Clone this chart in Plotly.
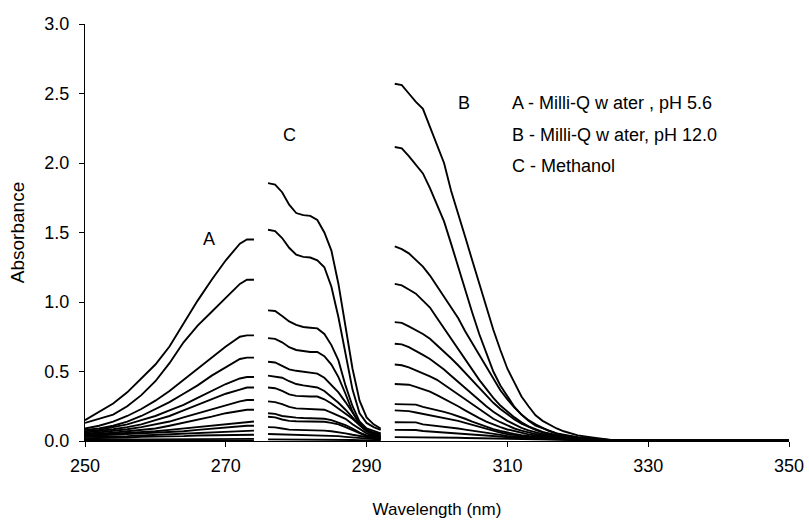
import plotly.graph_objects as go

# ---------------- data ----------------
A_x = [250, 252, 254, 256, 258, 260, 262, 264, 266, 268, 270, 272, 273, 274]
A_curves = [
    [0.15, 0.21, 0.27, 0.35, 0.45, 0.55, 0.68, 0.85, 1.01, 1.16, 1.30, 1.42, 1.45, 1.45],
    [0.13, 0.16, 0.19, 0.25, 0.33, 0.43, 0.56, 0.71, 0.83, 0.93, 1.03, 1.13, 1.16, 1.16],
    [0.09, 0.11, 0.14, 0.18, 0.23, 0.29, 0.36, 0.44, 0.52, 0.60, 0.68, 0.75, 0.76, 0.76],
    [0.08, 0.09, 0.11, 0.14, 0.18, 0.23, 0.28, 0.34, 0.40, 0.47, 0.53, 0.59, 0.60, 0.60],
    [0.07, 0.08, 0.10, 0.12, 0.15, 0.18, 0.22, 0.26, 0.31, 0.36, 0.41, 0.45, 0.46, 0.46],
    [0.06, 0.07, 0.085, 0.10, 0.12, 0.15, 0.18, 0.22, 0.26, 0.30, 0.34, 0.37, 0.385, 0.385],
    [0.05, 0.06, 0.07, 0.085, 0.10, 0.12, 0.14, 0.17, 0.20, 0.23, 0.26, 0.285, 0.295, 0.295],
    [0.045, 0.05, 0.06, 0.07, 0.08, 0.09, 0.11, 0.13, 0.15, 0.175, 0.20, 0.22, 0.225, 0.225],
    [0.04, 0.045, 0.05, 0.055, 0.06, 0.07, 0.08, 0.09, 0.10, 0.11, 0.125, 0.135, 0.14, 0.14],
    [0.035, 0.04, 0.04, 0.045, 0.05, 0.055, 0.06, 0.07, 0.08, 0.09, 0.10, 0.11, 0.11, 0.11],
    [0.03, 0.03, 0.035, 0.035, 0.04, 0.045, 0.05, 0.055, 0.06, 0.065, 0.07, 0.075, 0.075, 0.075],
    [0.02, 0.02, 0.025, 0.025, 0.03, 0.03, 0.035, 0.035, 0.04, 0.04, 0.045, 0.045, 0.045, 0.045],
    [0.01, 0.01, 0.01, 0.01, 0.012, 0.012, 0.013, 0.013, 0.014, 0.015, 0.015, 0.015, 0.015, 0.015],
    [0.003, 0.003, 0.003, 0.003, 0.003, 0.003, 0.003, 0.003, 0.003, 0.003, 0.003, 0.003, 0.003, 0.003],
]

C_x = [276, 277, 278, 279, 280, 281, 282, 283, 284, 285, 286, 287, 288, 289, 290, 291, 292]
C_curves = [
    [1.855, 1.845, 1.79, 1.70, 1.64, 1.625, 1.62, 1.59, 1.50, 1.37, 1.13, 0.83, 0.52, 0.29, 0.17, 0.12, 0.09],
    [1.52, 1.51, 1.46, 1.39, 1.34, 1.325, 1.32, 1.30, 1.25, 1.11, 0.89, 0.62, 0.37, 0.20, 0.13, 0.10, 0.08],
    [0.94, 0.935, 0.90, 0.86, 0.835, 0.82, 0.815, 0.81, 0.77, 0.69, 0.58, 0.40, 0.25, 0.14, 0.09, 0.07, 0.055],
    [0.74, 0.735, 0.71, 0.675, 0.655, 0.645, 0.64, 0.64, 0.61, 0.55, 0.46, 0.34, 0.21, 0.12, 0.08, 0.06, 0.05],
    [0.57, 0.565, 0.54, 0.515, 0.505, 0.50, 0.495, 0.485, 0.455, 0.40, 0.35, 0.28, 0.20, 0.13, 0.08, 0.055, 0.04],
    [0.47, 0.465, 0.455, 0.43, 0.41, 0.40, 0.39, 0.385, 0.36, 0.32, 0.275, 0.225, 0.17, 0.115, 0.07, 0.05, 0.035],
    [0.385, 0.38, 0.36, 0.335, 0.325, 0.32, 0.32, 0.32, 0.30, 0.27, 0.235, 0.20, 0.16, 0.115, 0.07, 0.045, 0.03],
    [0.285, 0.28, 0.265, 0.245, 0.235, 0.232, 0.23, 0.23, 0.225, 0.205, 0.185, 0.16, 0.12, 0.085, 0.055, 0.035, 0.025],
    [0.20, 0.195, 0.18, 0.172, 0.168, 0.165, 0.165, 0.163, 0.16, 0.15, 0.135, 0.115, 0.09, 0.06, 0.04, 0.03, 0.02],
    [0.175, 0.17, 0.155, 0.145, 0.142, 0.14, 0.14, 0.14, 0.138, 0.13, 0.12, 0.10, 0.08, 0.055, 0.035, 0.025, 0.018],
    [0.10, 0.098, 0.09, 0.082, 0.08, 0.08, 0.08, 0.078, 0.075, 0.07, 0.065, 0.055, 0.045, 0.035, 0.025, 0.02, 0.015],
    [0.05, 0.049, 0.046, 0.044, 0.043, 0.043, 0.043, 0.042, 0.04, 0.038, 0.035, 0.03, 0.025, 0.02, 0.015, 0.012, 0.01],
    [0.012, 0.012, 0.012, 0.011, 0.011, 0.011, 0.011, 0.011, 0.010, 0.010, 0.009, 0.008, 0.007, 0.006, 0.005, 0.005, 0.004],
]

B_x = [294, 295, 296, 297, 298, 299, 300, 301, 302, 303, 304, 305, 306, 307, 308, 309,
       310, 311, 312, 313, 314, 315, 316, 317, 318, 319, 320, 322, 324, 325, 330, 340, 350]
B_curves = [
    [2.57, 2.56, 2.50, 2.44, 2.39, 2.26, 2.14, 2.00, 1.80, 1.64, 1.47, 1.30, 1.13, 0.96, 0.80, 0.655,
     0.52, 0.42, 0.32, 0.25, 0.185, 0.145, 0.115, 0.09, 0.07, 0.055, 0.04, 0.025, 0.012, 0.005, 0.003, 0.003, 0.003],
    [2.115, 2.105, 2.05, 1.99, 1.925, 1.82, 1.70, 1.58, 1.42, 1.25, 1.08, 0.925, 0.77, 0.63, 0.50, 0.40,
     0.32, 0.245, 0.19, 0.145, 0.11, 0.09, 0.07, 0.055, 0.04, 0.032, 0.025, 0.015, 0.008, 0.005, 0.003, 0.003, 0.003],
    [1.40, 1.38, 1.35, 1.30, 1.255, 1.19, 1.115, 1.04, 0.965, 0.885, 0.79, 0.705, 0.615, 0.525, 0.44, 0.365,
     0.30, 0.24, 0.19, 0.15, 0.12, 0.095, 0.07, 0.055, 0.045, 0.035, 0.028, 0.016, 0.008, 0.005, 0.003, 0.003, 0.003],
    [1.13, 1.12, 1.09, 1.06, 1.01, 0.96, 0.885, 0.81, 0.735, 0.66, 0.585, 0.51, 0.44, 0.375, 0.31, 0.255,
     0.21, 0.17, 0.135, 0.105, 0.085, 0.065, 0.052, 0.042, 0.034, 0.028, 0.022, 0.013, 0.007, 0.004, 0.003, 0.003, 0.003],
    [0.855, 0.85, 0.825, 0.80, 0.77, 0.735, 0.69, 0.645, 0.595, 0.545, 0.49, 0.435, 0.38, 0.325, 0.275, 0.23,
     0.19, 0.155, 0.125, 0.10, 0.08, 0.062, 0.05, 0.04, 0.032, 0.026, 0.02, 0.012, 0.006, 0.004, 0.003, 0.003, 0.003],
    [0.70, 0.695, 0.675, 0.65, 0.62, 0.59, 0.555, 0.515, 0.47, 0.425, 0.38, 0.335, 0.29, 0.25, 0.21, 0.175,
     0.145, 0.12, 0.095, 0.077, 0.062, 0.05, 0.04, 0.033, 0.027, 0.022, 0.018, 0.011, 0.006, 0.004, 0.003, 0.003, 0.003],
    [0.55, 0.545, 0.53, 0.51, 0.49, 0.465, 0.44, 0.405, 0.37, 0.335, 0.295, 0.26, 0.225, 0.19, 0.16, 0.135,
     0.11, 0.09, 0.075, 0.06, 0.05, 0.04, 0.033, 0.027, 0.022, 0.018, 0.015, 0.01, 0.005, 0.003, 0.003, 0.003, 0.003],
    [0.41, 0.41, 0.405, 0.39, 0.375, 0.355, 0.33, 0.305, 0.28, 0.25, 0.22, 0.19, 0.165, 0.14, 0.118, 0.10,
     0.083, 0.07, 0.058, 0.048, 0.04, 0.033, 0.027, 0.022, 0.018, 0.015, 0.012, 0.008, 0.005, 0.003, 0.003, 0.003, 0.003],
    [0.265, 0.265, 0.265, 0.262, 0.245, 0.235, 0.225, 0.21, 0.195, 0.18, 0.16, 0.14, 0.12, 0.10, 0.085, 0.072,
     0.06, 0.05, 0.042, 0.035, 0.029, 0.024, 0.02, 0.017, 0.014, 0.012, 0.01, 0.007, 0.004, 0.003, 0.003, 0.003, 0.003],
    [0.22, 0.218, 0.215, 0.205, 0.195, 0.19, 0.18, 0.17, 0.158, 0.145, 0.13, 0.115, 0.10, 0.085, 0.072, 0.06,
     0.05, 0.042, 0.035, 0.03, 0.025, 0.021, 0.018, 0.015, 0.013, 0.011, 0.009, 0.006, 0.004, 0.003, 0.003, 0.003, 0.003],
    [0.135, 0.135, 0.135, 0.134, 0.12, 0.115, 0.11, 0.105, 0.098, 0.09, 0.082, 0.074, 0.066, 0.058, 0.05, 0.043,
     0.037, 0.032, 0.027, 0.023, 0.02, 0.017, 0.015, 0.013, 0.011, 0.009, 0.008, 0.005, 0.003, 0.002, 0.002, 0.002, 0.002],
    [0.08, 0.08, 0.08, 0.079, 0.072, 0.068, 0.065, 0.062, 0.058, 0.054, 0.05, 0.046, 0.042, 0.038, 0.034, 0.03,
     0.027, 0.024, 0.021, 0.018, 0.016, 0.014, 0.012, 0.011, 0.009, 0.008, 0.007, 0.005, 0.003, 0.002, 0.002, 0.002, 0.002],
    [0.028, 0.028, 0.028, 0.028, 0.028, 0.027, 0.026, 0.025, 0.024, 0.023, 0.022, 0.021, 0.02, 0.018, 0.016, 0.015,
     0.013, 0.012, 0.011, 0.01, 0.009, 0.008, 0.007, 0.006, 0.005, 0.005, 0.004, 0.003, 0.002, 0.002, 0.002, 0.002, 0.002],
]

group_labels = ["A", "C", "B"]
group_label_x = [267.6, 279.0, 303.8]
group_label_y = [1.45, 2.2, 2.43]

legend_lines = ["A - Milli-Q w ater , pH 5.6", "B - Milli-Q w ater, pH 12.0", "C - Methanol"]
legend_x = 310.4
legend_y = [2.43, 2.2, 1.98]

x_ticks = [250, 270, 290, 310, 330, 350]
y_ticks = [0.0, 0.5, 1.0, 1.5, 2.0, 2.5, 3.0]

# ---------------- figure ----------------
FONT = "Liberation Sans, Arial, sans-serif"
fig = go.Figure()
line_style = dict(color="black", width=1.9)

for xs, curves in [(A_x, A_curves), (C_x, C_curves), (B_x, B_curves)]:
    for ys in curves:
        fig.add_trace(go.Scatter(x=xs, y=ys, mode="lines", line=line_style,
                                 showlegend=False, hoverinfo="skip"))

for t, x, y in zip(group_labels, group_label_x, group_label_y):
    fig.add_annotation(x=x, y=y, text=t, showarrow=False, xref="x", yref="y",
                       font=dict(family=FONT, size=18, color="black"))

for t, y in zip(legend_lines, legend_y):
    fig.add_annotation(x=legend_x, y=y, text=t, showarrow=False, xref="x", yref="y",
                       xanchor="left", font=dict(family=FONT, size=18, color="black"))

fig.update_layout(
    width=809, height=522,
    margin=dict(l=85, r=20, t=24, b=81, autoexpand=False),
    paper_bgcolor="white", plot_bgcolor="white",
    font=dict(family=FONT, size=18, color="black"),
)
fig.update_xaxes(
    range=[250, 350], tickvals=x_ticks, ticktext=[str(v) for v in x_ticks],
    showline=True, linecolor="black", linewidth=1, ticks="outside", ticklen=5,
    tickcolor="black", showgrid=False, zeroline=False, ticklabelstandoff=3,
    automargin=False,
    title=dict(text="Wavelength (nm)", font=dict(family=FONT, size=17), standoff=28),
    tickfont=dict(family=FONT, size=18),
)
fig.update_yaxes(
    range=[0, 3], tickvals=y_ticks, ticktext=[f"{v:.1f}" for v in y_ticks],
    showline=True, linecolor="black", linewidth=1, ticks="outside", ticklen=5,
    tickcolor="black", showgrid=False, zeroline=False, ticklabelstandoff=6,
    automargin=False,
    title=dict(text="Absorbance", font=dict(family=FONT, size=19), standoff=14),
    tickfont=dict(family=FONT, size=18),
)

fig.write_html("out.html")
